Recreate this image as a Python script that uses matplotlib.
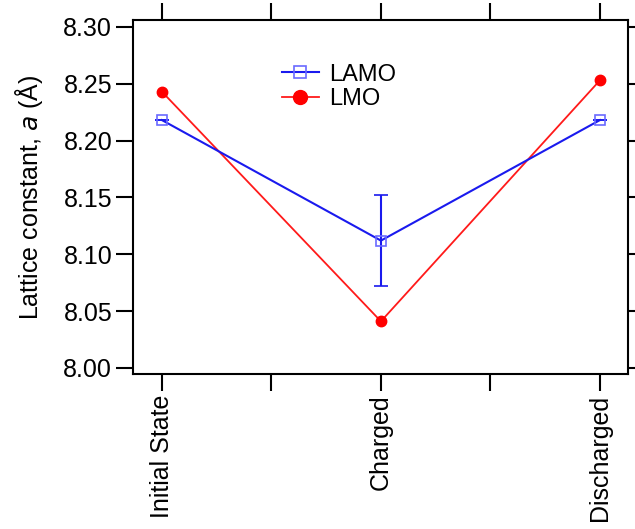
import numpy as np
import matplotlib
matplotlib.use("Agg")
from matplotlib import pyplot as plt
from matplotlib.lines import Line2D

plt.rcParams['font.family'] = ['Liberation Sans', 'DejaVu Sans']

states = ['Initial State', 'Charged', 'Discharged']
lamo = [8.218, 8.112, 8.218]
lamo_err = [0, 0.040, 0]
lmo = [8.243, 8.041, 8.253]

x = np.arange(len(states))
blue = '#1a1aee'
red = '#ff1a1a'

fig = plt.figure(figsize=(6.35, 5.29), dpi=100)
ax = fig.add_axes([0.2094, 0.293, 0.7796, 0.669])

ax.plot(x, lmo, color=red, lw=1.3, marker='o', ms=7.5, mfc='#ff0000', mec='#ff0000', zorder=2)
ax.errorbar(x, lamo, yerr=lamo_err, color=blue, lw=1.5, capsize=5, capthick=1.5,
            marker='s', ms=7, mfc='none', mec='#6a6aff', mew=1.2, zorder=3)

ax.set_xlim(-0.132, 2.128)
ax.set_ylim(7.9947, 8.3059)
yt = np.arange(8.00, 8.301, 0.05)
ax.set_yticks(yt)
ax.set_yticklabels(['%.2f' % v for v in yt])
ax.set_xticks([0, 1, 2])
ax.set_xticks([0.5, 1.5], minor=True)
ax.set_xticklabels(states, rotation=90)
ax.tick_params(axis='both', labelsize=18, direction='out', length=12, width=1.5, pad=3)
ax.tick_params(axis='x', which='minor', length=12, width=1.5, top=True, bottom=True)
ax.tick_params(axis='x', which='major', top=True)
ax.tick_params(axis='y', right=True)
ax.set_ylabel('Lattice constant, $a$ (Å)', fontsize=18, labelpad=13)
for s in ax.spines.values():
    s.set_linewidth(1.5)

handles = [
    Line2D([], [], color=blue, lw=1.5, marker='s', ms=9, mfc='none', mec='#6a6aff', mew=1.2),
    Line2D([], [], color=red, lw=1.3, marker='o', ms=10, mfc='#ff0000', mec='#ff0000'),
]
ax.legend(handles, ['LAMO', 'LMO'], loc='upper left', bbox_to_anchor=(0.41, 0.92),
          bbox_transform=fig.transFigure, frameon=False, fontsize=17,
          handlelength=1.6, handletextpad=0.4, labelspacing=0.1)

fig.savefig('out.png', dpi=100)
